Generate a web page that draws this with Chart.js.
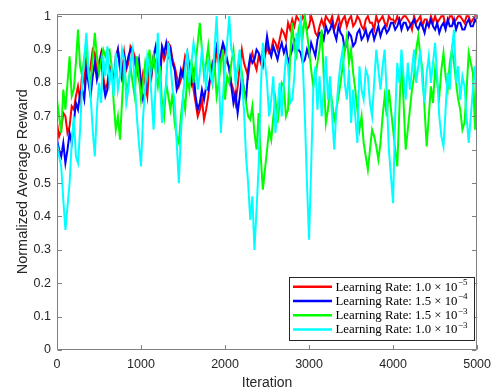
<!DOCTYPE html>
<html>
<head>
<meta charset="utf-8">
<script src="https://cdn.jsdelivr.net/npm/chart.js@4.4.0/dist/chart.umd.min.js"></script>
<style>
html, body { margin: 0; padding: 0; background: #fff; }
</style>
</head>
<body>
<canvas id="rewardChart" width="498" height="392"></canvas>
<script>
// Iteration axis: one sample every 25 iterations, 0..5000
const iterStep = 25;
const iterations = Array.from({ length: 201 }, (_, i) => i * iterStep);

// Normalized average reward
const rewardLr1e5 = [
    0.68, 0.64, 0.66, 0.71, 0.70, 0.65, 0.67, 0.73, 0.72, 0.76, 0.79, 0.75, 0.83, 0.80, 0.88, 0.82, 0.85, 0.90, 0.89, 0.83,
    0.86, 0.89, 0.82, 0.78, 0.80, 0.85, 0.84, 0.80, 0.88, 0.90, 0.86, 0.82, 0.89, 0.84, 0.86, 0.91, 0.90, 0.88, 0.85, 0.81,
    0.79, 0.83, 0.80, 0.76, 0.86, 0.82, 0.88, 0.86, 0.84, 0.80, 0.90, 0.87, 0.89, 0.92, 0.91, 0.87, 0.85, 0.82, 0.79, 0.81,
    0.84, 0.88, 0.86, 0.81, 0.83, 0.78, 0.74, 0.70, 0.72, 0.75, 0.69, 0.72, 0.76, 0.82, 0.86, 0.84, 0.90, 0.86, 0.88, 0.91,
    0.89, 0.86, 0.85, 0.80, 0.78, 0.74, 0.79, 0.85, 0.90, 0.86, 0.84, 0.82, 0.87, 0.89, 0.86, 0.84, 0.88, 0.86, 0.90, 0.88,
    0.91, 0.89, 0.90, 0.93, 0.92, 0.90, 0.93, 0.96, 0.95, 0.93, 0.98, 0.96, 0.99, 0.97, 1.00, 0.99, 0.98, 1.00, 0.99, 0.96,
    0.97, 1.00, 0.98, 0.95, 0.94, 0.97, 0.99, 0.97, 1.00, 0.99, 0.98, 1.00, 0.96, 0.98, 1.00, 0.97, 0.99, 1.00, 0.97, 0.99,
    1.00, 0.97, 0.98, 1.00, 0.99, 0.97, 0.96, 0.99, 1.00, 0.98, 0.98, 0.96, 1.00, 0.98, 0.99, 1.00, 0.98, 0.97, 1.00, 0.99,
    0.99, 0.98, 1.00, 0.98, 0.99, 1.00, 1.00, 0.99, 0.98, 0.96, 1.00, 0.98, 0.99, 1.00, 0.97, 0.99, 0.99, 0.97, 1.00, 0.98,
    1.00, 0.98, 0.99, 1.00, 1.00, 0.97, 0.98, 1.00, 1.00, 0.98, 0.99, 1.00, 1.00, 0.99, 0.98, 1.00, 1.00, 0.98, 0.99, 1.00,
    1.00
];
const rewardLr15e4 = [
    0.63, 0.60, 0.58, 0.62, 0.56, 0.60, 0.65, 0.62, 0.68, 0.74, 0.72, 0.77, 0.78, 0.75, 0.84, 0.80, 0.76, 0.82, 0.86, 0.81,
    0.84, 0.88, 0.80, 0.76, 0.78, 0.84, 0.83, 0.80, 0.87, 0.90, 0.84, 0.81, 0.88, 0.85, 0.88, 0.90, 0.89, 0.86, 0.84, 0.87,
    0.80, 0.75, 0.77, 0.82, 0.85, 0.83, 0.88, 0.91, 0.86, 0.83, 0.91, 0.89, 0.92, 0.88, 0.90, 0.86, 0.84, 0.78, 0.80, 0.84,
    0.82, 0.86, 0.89, 0.85, 0.80, 0.83, 0.76, 0.72, 0.74, 0.78, 0.75, 0.79, 0.78, 0.82, 0.85, 0.88, 0.91, 0.87, 0.89, 0.92,
    0.90, 0.87, 0.84, 0.79, 0.74, 0.77, 0.71, 0.76, 0.82, 0.78, 0.75, 0.84, 0.88, 0.86, 0.87, 0.90, 0.89, 0.87, 0.85, 0.89,
    0.94, 0.90, 0.88, 0.91, 0.89, 0.87, 0.90, 0.92, 0.89, 0.91, 0.86, 0.88, 0.90, 0.93, 0.92, 0.90, 0.89, 0.86, 0.87, 0.90,
    0.88, 0.92, 0.90, 0.88, 0.93, 0.95, 0.95, 0.93, 0.97, 0.95, 0.96, 0.98, 0.95, 0.93, 0.97, 0.95, 0.94, 0.90, 0.92, 0.95,
    0.94, 0.91, 0.92, 0.95, 0.96, 0.93, 0.94, 0.96, 0.93, 0.95, 0.96, 0.93, 0.95, 0.97, 0.94, 0.96, 0.97, 0.95, 0.96, 0.98,
    0.98, 0.96, 0.97, 0.99, 0.96, 0.98, 0.98, 0.96, 0.97, 0.98, 0.99, 0.97, 0.96, 0.98, 0.97, 0.95, 0.98, 0.97, 0.99, 0.97,
    0.96, 0.98, 0.95, 0.97, 0.98, 0.96, 0.99, 0.97, 0.97, 0.99, 0.96, 0.98, 0.98, 0.96, 0.96, 0.98, 0.99, 0.97, 0.97, 0.99,
    0.98
];
const rewardLr15e3 = [
    0.75, 0.70, 0.65, 0.78, 0.72, 0.80, 0.88, 0.76, 0.78, 0.86, 0.96, 0.85, 0.82, 0.88, 0.90, 0.82, 0.80, 0.87, 0.95, 0.88,
    0.83, 0.87, 0.90, 0.88, 0.90, 0.90, 0.85, 0.74, 0.66, 0.70, 0.63, 0.75, 0.86, 0.78, 0.80, 0.85, 0.80, 0.76, 0.88, 0.82,
    0.75, 0.80, 0.86, 0.82, 0.90, 0.84, 0.88, 0.83, 0.79, 0.85, 0.74, 0.70, 0.80, 0.76, 0.72, 0.77, 0.68, 0.64, 0.62, 0.70,
    0.76, 0.72, 0.82, 0.78, 0.87, 0.80, 0.86, 0.92, 0.98, 0.90, 0.82, 0.86, 0.91, 0.84, 0.80, 0.86, 0.76, 0.80, 0.86, 0.90,
    0.75, 0.82, 0.80, 0.86, 0.90, 0.82, 0.84, 0.88, 0.83, 0.78, 0.74, 0.70, 0.69, 0.73, 0.65, 0.60, 0.71, 0.58, 0.48, 0.54,
    0.60, 0.66, 0.63, 0.70, 0.75, 0.68, 0.74, 0.80, 0.79, 0.70, 0.72, 0.88, 0.98, 0.90, 0.88, 0.96, 0.99, 0.94, 1.00, 0.95,
    0.90, 0.84, 0.79, 0.82, 0.86, 0.90, 0.96, 0.82, 0.68, 0.72, 0.79, 0.74, 0.69, 0.72, 0.76, 0.80, 0.85, 0.90, 0.94, 0.86,
    0.90, 0.83, 0.78, 0.72, 0.66, 0.70, 0.62, 0.58, 0.54, 0.60, 0.66, 0.64, 0.61, 0.57, 0.62, 0.70, 0.76, 0.70, 0.78, 0.72,
    0.66, 0.60, 0.55, 0.72, 0.88, 0.74, 0.60, 0.66, 0.72, 0.78, 0.82, 0.90, 0.94, 0.88, 0.84, 0.72, 0.61, 0.70, 0.79, 0.74,
    0.84, 0.80, 0.76, 0.84, 0.89, 0.82, 0.78, 0.86, 0.90, 0.86, 0.80, 0.75, 0.72, 0.66, 0.68, 0.78, 0.89, 0.86, 0.83, 0.66,
    0.93
];
const rewardLr1e3 = [
    0.62, 0.58, 0.55, 0.45, 0.36, 0.43, 0.50, 0.62, 0.70, 0.58, 0.56, 0.66, 0.80, 0.88, 0.95, 0.84, 0.76, 0.66, 0.58, 0.72,
    0.80, 0.74, 0.88, 0.82, 0.91, 0.80, 0.84, 0.76, 0.89, 0.78, 0.82, 0.90, 0.87, 0.74, 0.78, 0.86, 0.90, 0.80, 0.70, 0.62,
    0.55, 0.70, 0.78, 0.88, 0.85, 0.76, 0.66, 0.80, 0.95, 0.80, 0.68, 0.75, 0.80, 0.92, 0.86, 0.78, 0.75, 0.62, 0.50, 0.65,
    0.75, 0.84, 0.90, 0.80, 0.86, 0.92, 0.88, 0.78, 0.83, 0.90, 0.85, 0.78, 0.87, 0.82, 0.80, 0.90, 1.00, 0.84, 0.65, 0.76,
    0.85, 0.92, 1.00, 0.90, 0.88, 0.80, 0.85, 0.90, 0.80, 0.72, 0.58, 0.50, 0.39, 0.46, 0.30, 0.42, 0.55, 0.78, 0.92, 0.86,
    0.80, 0.70, 0.75, 0.82, 0.65, 0.72, 0.80, 0.70, 0.80, 0.88, 0.85, 0.74, 0.75, 0.82, 0.95, 0.90, 1.00, 0.86, 0.70, 0.50,
    0.33, 0.55, 0.78, 0.85, 0.72, 0.82, 0.70, 0.78, 0.88, 0.75, 0.82, 0.70, 0.60, 0.72, 0.80, 0.86, 0.90, 0.80, 0.75, 0.84,
    0.68, 0.78, 0.70, 0.62, 0.85, 0.78, 0.75, 0.84, 0.82, 0.74, 0.70, 0.80, 0.90, 0.84, 0.78, 0.85, 0.90, 0.76, 0.60, 0.52,
    0.44, 0.70, 0.86, 0.80, 0.90, 0.82, 0.75, 0.86, 0.78, 0.84, 0.90, 0.80, 0.85, 0.90, 0.80, 0.74, 0.83, 0.88, 0.80, 0.86,
    0.92, 0.82, 0.70, 0.64, 0.61, 0.72, 0.83, 0.78, 0.90, 0.96, 0.80, 0.85, 0.75, 0.82, 0.79, 0.70, 0.62, 0.70, 0.78, 0.85,
    0.75
];

// Legend text pieces: mantissa and exponent of each learning rate
const lrMantissa = ['1.0', '1.5', '1.5', '1.0'];
const lrExponent = ['\u22125', '\u22124', '\u22123', '\u22123'];
const lineColors = ['#ff0000', '#0000ff', '#00ff00', '#00ffff'];

const xTicks = [0, 1000, 2000, 3000, 4000, 5000];

const sansFont = "'Liberation Sans', Arial, Helvetica, sans-serif";
const serifFont = "'Liberation Serif', 'Times New Roman', serif";
const textColor = '#262626';
const axisColor = '#808080';

const toPoints = (values) => values.map((v, i) => ({ x: iterations[i], y: v }));

// MATLAB style box with inward ticks on all four sides
const boxAxes = {
    id: 'boxAxes',
    afterDatasetsDraw(chart) {
        const { ctx, chartArea: a, scales: { x, y } } = chart;
        const tl = 4.5;
        ctx.save();
        ctx.strokeStyle = axisColor;
        ctx.lineWidth = 1;
        ctx.beginPath();
        const L = Math.round(a.left) + 0.5, R = Math.round(a.right) - 0.5;
        const T = Math.round(a.top) + 0.5, B = Math.round(a.bottom) - 0.5;
        ctx.rect(L, T, R - L, B - T);
        x.ticks.forEach(t => {
            const px = Math.round(x.getPixelForValue(t.value)) + 0.5;
            ctx.moveTo(px, B); ctx.lineTo(px, B - tl);
            ctx.moveTo(px, T); ctx.lineTo(px, T + tl);
        });
        y.ticks.forEach(t => {
            const py = Math.round(y.getPixelForValue(t.value)) + 0.5;
            ctx.moveTo(L, py); ctx.lineTo(L + tl, py);
            ctx.moveTo(R, py); ctx.lineTo(R - tl, py);
        });
        ctx.stroke();
        ctx.restore();
    }
};

// Legend box in the lower right corner, LaTeX style labels
const lrLegend = {
    id: 'lrLegend',
    afterDraw(chart) {
        const { ctx } = chart;
        const box = { left: 289.5, top: 277.5, right: 474.5, bottom: 340.5 };
        ctx.save();
        ctx.fillStyle = '#fff';
        ctx.fillRect(box.left, box.top, box.right - box.left, box.bottom - box.top);
        ctx.strokeStyle = '#262626';
        ctx.lineWidth = 1;
        ctx.strokeRect(box.left, box.top, box.right - box.left, box.bottom - box.top);
        ctx.textBaseline = 'middle';
        ctx.fillStyle = '#000';
        lrMantissa.forEach((m, i) => {
            const cy = 286.8 + i * 14.2;
            ctx.strokeStyle = lineColors[i];
            ctx.lineWidth = 2.5;
            ctx.beginPath();
            ctx.moveTo(293, cy);
            ctx.lineTo(332, cy);
            ctx.stroke();
            ctx.font = '12.8px ' + serifFont;
            const main = 'Learning Rate: ' + m + ' \u00d7 10';
            ctx.fillText(main, 335.5, cy + 0.5);
            const w = ctx.measureText(main).width;
            ctx.font = '9px ' + serifFont;
            ctx.fillText(lrExponent[i], 335.5 + w + 0.5, cy - 4);
        });
        ctx.restore();
    }
};

const ctx = document.getElementById('rewardChart').getContext('2d');
const rewardChart = new Chart(ctx, {
    type: 'line',
    data: {
        datasets: [rewardLr1e5, rewardLr15e4, rewardLr15e3, rewardLr1e3].map((vals, i) => ({
            label: 'Learning Rate: ' + lrMantissa[i] + ' \u00d7 10^' + lrExponent[i],
            data: toPoints(vals),
            borderColor: lineColors[i],
            backgroundColor: lineColors[i],
            borderWidth: 2,
            pointRadius: 0,
            tension: 0,
            order: 4 - i // cyan drawn on top, red at the bottom
        }))
    },
    options: {
        responsive: false,
        animation: false,
        events: [],
        layout: { padding: { top: 13, right: 14, left: 0, bottom: 0 } },
        plugins: {
            legend: { display: false },
            tooltip: { enabled: false }
        },
        scales: {
            x: {
                type: 'linear',
                min: 0,
                max: 5000,
                afterBuildTicks: (scale) => { scale.ticks = xTicks.map(v => ({ value: v })); },
                grid: { display: false, drawTicks: false },
                border: { display: false },
                ticks: {
                    color: textColor,
                    font: { family: sansFont, size: 12.5 },
                    padding: 7,
                    maxRotation: 0,
                    autoSkip: false,
                    callback: (v) => String(v)
                },
                title: {
                    display: true,
                    text: 'Iteration',
                    color: textColor,
                    font: { family: sansFont, size: 14 },
                    padding: { top: 2, bottom: 0 }
                },
                afterFit: (scale) => { scale.height = 42; }
            },
            y: {
                min: 0,
                max: 1.008,
                grid: { display: false, drawTicks: false },
                border: { display: false },
                ticks: {
                    stepSize: 0.1,
                    includeBounds: false,
                    color: textColor,
                    font: { family: sansFont, size: 12.5 },
                    padding: 6,
                    callback: (v) => String(Math.round(v * 10) / 10)
                },
                title: {
                    display: true,
                    text: 'Normalized Average Reward',
                    color: textColor,
                    font: { family: sansFont, size: 14.5 },
                    padding: { top: 14, bottom: 0 }
                },
                afterFit: (scale) => { scale.width = 57; }
            }
        }
    },
    plugins: [boxAxes, lrLegend]
});
</script>
</body>
</html>
